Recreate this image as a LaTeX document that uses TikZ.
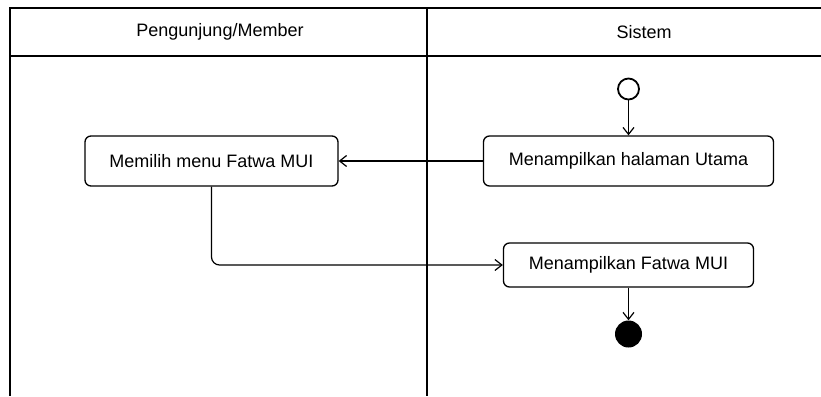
\documentclass[tikz,border=0pt]{standalone}
\usepackage{fontspec}
\setmainfont{Liberation Sans}
\usetikzlibrary{arrows.meta}
\begin{document}
\begin{tikzpicture}[x=1pt,y=-1pt,
  lane/.style={line width=1.3pt,draw=black},
  act/.style={draw=black,line width=1.3pt,rounded corners=6pt,inner sep=0pt,
    font=\fontsize{18}{21}\selectfont,align=center},
  conn/.style={line width=1.2pt,draw=black,-{Straight Barb[length=7pt,width=11pt]}},
  headtxt/.style={font=\fontsize{18}{21}\selectfont,inner sep=0pt}]
\useasboundingbox (0,0) rectangle (821,396);
\fill[white] (0,0) rectangle (821,396);
% swimlanes
\draw[lane] (821,8) -- (10,8) -- (10,396);
\draw[lane] (10,56) -- (821,56);
\draw[lane] (427,8) -- (427,396);
\node[headtxt] (h1) at (220,32) {Pengunjung/Member};
\node[headtxt] (h2) at (644,32) {Sistem};
% nodes
\node[circle,draw=black,line width=1.8pt,minimum size=21pt,inner sep=0pt] (start) at (628.5,89) {};
\node[act,minimum width=290pt,minimum height=50pt] (utama) at (628.5,161) {Menampilkan halaman Utama};
\node[act,minimum width=253pt,minimum height=50pt] (memilih) at (211.5,161) {Memilih menu Fatwa MUI};
\node[act,minimum width=250pt,minimum height=44pt] (fatwa) at (628.5,265) {Menampilkan Fatwa MUI};
\node[circle,fill=black,minimum size=27pt,inner sep=0pt] (end) at (628.5,334) {};
% connectors
\draw[conn] (start.south) -- (utama.north);
\draw[conn] (utama.west) -- (memilih.east);
\draw[conn,rounded corners=8pt] (memilih.south) |- (fatwa.west);
\draw[conn] (fatwa.south) -- (end.north);
\end{tikzpicture}
\end{document}
